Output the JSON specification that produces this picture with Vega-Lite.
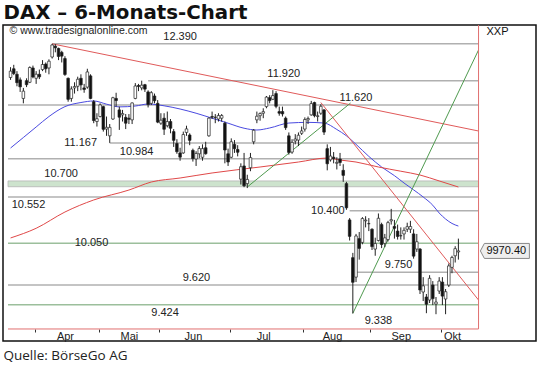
{
  "$schema": "https://vega.github.io/schema/vega-lite/v6.json",
  "width": 533,
  "height": 316,
  "autosize": "none",
  "padding": {"left": 3, "top": 25, "right": 4, "bottom": 25},
  "background": "white",
  "config": {"view": {"stroke": "#111111", "strokeWidth": 1.5}, "axis": {"grid": false}},
  "datasets": {
    "kerzen": [
      {"i":0,"d":"2015-03-20","o":11960,"h":12090,"l":11930,"c":12040},
      {"i":1,"d":"2015-03-23","o":12070,"h":12120,"l":11990,"c":12010},
      {"i":2,"d":"2015-03-24","o":12000,"h":12040,"l":11850,"c":11895},
      {"i":3,"d":"2015-03-25","o":11930,"h":11960,"l":11780,"c":11843},
      {"i":4,"d":"2015-03-26","o":11700,"h":11830,"l":11640,"c":11790},
      {"i":5,"d":"2015-03-27","o":11920,"h":11950,"l":11840,"c":11870},
      {"i":6,"d":"2015-03-30","o":11900,"h":12100,"l":11890,"c":12086},
      {"i":7,"d":"2015-03-31","o":12080,"h":12110,"l":11950,"c":11966},
      {"i":8,"d":"2015-04-01","o":11950,"h":12040,"l":11880,"c":12001},
      {"i":9,"d":"2015-04-02","o":12000,"h":12060,"l":11940,"c":11968},
      {"i":10,"d":"2015-04-07","o":12060,"h":12180,"l":12040,"c":12124},
      {"i":11,"d":"2015-04-08","o":12130,"h":12150,"l":12020,"c":12070},
      {"i":12,"d":"2015-04-09","o":12080,"h":12190,"l":12000,"c":12166},
      {"i":13,"d":"2015-04-10","o":12220,"h":12390,"l":12200,"c":12375},
      {"i":14,"d":"2015-04-13","o":12360,"h":12385,"l":12280,"c":12338},
      {"i":15,"d":"2015-04-14","o":12330,"h":12340,"l":12180,"c":12227},
      {"i":16,"d":"2015-04-15","o":12280,"h":12300,"l":12150,"c":12231},
      {"i":17,"d":"2015-04-16","o":12200,"h":12230,"l":11980,"c":11998},
      {"i":18,"d":"2015-04-17","o":11950,"h":11960,"l":11660,"c":11689},
      {"i":19,"d":"2015-04-20","o":11700,"h":11850,"l":11660,"c":11817},
      {"i":20,"d":"2015-04-21","o":11830,"h":11900,"l":11760,"c":11848},
      {"i":21,"d":"2015-04-22","o":11850,"h":11970,"l":11790,"c":11938},
      {"i":22,"d":"2015-04-23","o":11950,"h":12000,"l":11800,"c":11867},
      {"i":23,"d":"2015-04-24","o":11830,"h":11880,"l":11770,"c":11811},
      {"i":24,"d":"2015-04-27","o":11840,"h":12070,"l":11820,"c":12030},
      {"i":25,"d":"2015-04-28","o":11980,"h":12000,"l":11690,"c":11700},
      {"i":26,"d":"2015-04-29","o":11660,"h":11680,"l":11400,"c":11432},
      {"i":27,"d":"2015-04-30","o":11420,"h":11520,"l":11360,"c":11454},
      {"i":28,"d":"2015-05-04","o":11480,"h":11640,"l":11470,"c":11621},
      {"i":29,"d":"2015-05-05","o":11600,"h":11610,"l":11300,"c":11327},
      {"i":30,"d":"2015-05-06","o":11330,"h":11480,"l":11250,"c":11351},
      {"i":31,"d":"2015-05-07","o":11250,"h":11390,"l":11167,"c":11350},
      {"i":32,"d":"2015-05-08","o":11450,"h":11720,"l":11440,"c":11709},
      {"i":33,"d":"2015-05-11","o":11700,"h":11770,"l":11600,"c":11674},
      {"i":34,"d":"2015-05-12","o":11560,"h":11600,"l":11320,"c":11472},
      {"i":35,"d":"2015-05-13","o":11500,"h":11560,"l":11420,"c":11516},
      {"i":36,"d":"2015-05-14","o":11470,"h":11510,"l":11330,"c":11400},
      {"i":37,"d":"2015-05-15","o":11460,"h":11510,"l":11390,"c":11447},
      {"i":38,"d":"2015-05-18","o":11440,"h":11650,"l":11390,"c":11645},
      {"i":39,"d":"2015-05-19","o":11700,"h":11890,"l":11690,"c":11854},
      {"i":40,"d":"2015-05-20","o":11860,"h":11880,"l":11790,"c":11848},
      {"i":41,"d":"2015-05-21","o":11830,"h":11920,"l":11800,"c":11864},
      {"i":42,"d":"2015-05-22","o":11870,"h":11880,"l":11780,"c":11815},
      {"i":43,"d":"2015-05-26","o":11780,"h":11800,"l":11590,"c":11625},
      {"i":44,"d":"2015-05-27","o":11640,"h":11790,"l":11620,"c":11771},
      {"i":45,"d":"2015-05-28","o":11730,"h":11760,"l":11640,"c":11672},
      {"i":46,"d":"2015-05-29","o":11640,"h":11680,"l":11400,"c":11413},
      {"i":47,"d":"2015-06-01","o":11400,"h":11520,"l":11380,"c":11436},
      {"i":48,"d":"2015-06-02","o":11460,"h":11520,"l":11260,"c":11328},
      {"i":49,"d":"2015-06-03","o":11370,"h":11540,"l":11350,"c":11419},
      {"i":50,"d":"2015-06-04","o":11420,"h":11450,"l":11280,"c":11340},
      {"i":51,"d":"2015-06-05","o":11300,"h":11330,"l":11120,"c":11197},
      {"i":52,"d":"2015-06-08","o":11160,"h":11210,"l":11040,"c":11064},
      {"i":53,"d":"2015-06-09","o":11050,"h":11110,"l":10960,"c":11001},
      {"i":54,"d":"2015-06-10","o":11050,"h":11300,"l":11040,"c":11265},
      {"i":55,"d":"2015-06-11","o":11290,"h":11370,"l":11250,"c":11332},
      {"i":56,"d":"2015-06-12","o":11260,"h":11280,"l":11140,"c":11197},
      {"i":57,"d":"2015-06-15","o":11080,"h":11100,"l":10950,"c":10984},
      {"i":58,"d":"2015-06-16","o":10980,"h":11070,"l":10900,"c":11044},
      {"i":59,"d":"2015-06-17","o":11040,"h":11130,"l":10990,"c":11101},
      {"i":60,"d":"2015-06-18","o":11000,"h":11150,"l":10960,"c":11100},
      {"i":61,"d":"2015-06-19","o":11110,"h":11180,"l":11030,"c":11041},
      {"i":62,"d":"2015-06-22","o":11250,"h":11470,"l":11240,"c":11461},
      {"i":63,"d":"2015-06-23","o":11480,"h":11540,"l":11450,"c":11472},
      {"i":64,"d":"2015-06-24","o":11470,"h":11510,"l":11400,"c":11471},
      {"i":65,"d":"2015-06-25","o":11450,"h":11520,"l":11420,"c":11492},
      {"i":66,"d":"2015-06-26","o":11460,"h":11510,"l":11420,"c":11492},
      {"i":67,"d":"2015-06-29","o":11400,"h":11420,"l":10930,"c":11084},
      {"i":68,"d":"2015-06-30","o":11040,"h":11100,"l":10900,"c":10945},
      {"i":69,"d":"2015-07-01","o":11000,"h":11220,"l":10990,"c":11180},
      {"i":70,"d":"2015-07-02","o":11150,"h":11200,"l":11050,"c":11099},
      {"i":71,"d":"2015-07-03","o":11090,"h":11140,"l":11010,"c":11058},
      {"i":72,"d":"2015-07-06","o":10750,"h":10930,"l":10690,"c":10891},
      {"i":73,"d":"2015-07-07","o":10900,"h":11050,"l":10660,"c":10676},
      {"i":74,"d":"2015-07-08","o":10700,"h":10800,"l":10650,"c":10747},
      {"i":75,"d":"2015-07-09","o":10880,"h":11050,"l":10840,"c":10996},
      {"i":76,"d":"2015-07-10","o":11180,"h":11330,"l":11150,"c":11316},
      {"i":77,"d":"2015-07-13","o":11440,"h":11540,"l":11400,"c":11484},
      {"i":78,"d":"2015-07-14","o":11490,"h":11530,"l":11430,"c":11516},
      {"i":79,"d":"2015-07-15","o":11520,"h":11580,"l":11460,"c":11539},
      {"i":80,"d":"2015-07-16","o":11600,"h":11730,"l":11580,"c":11716},
      {"i":81,"d":"2015-07-17","o":11710,"h":11740,"l":11640,"c":11673},
      {"i":82,"d":"2015-07-20","o":11690,"h":11802,"l":11680,"c":11735},
      {"i":83,"d":"2015-07-21","o":11760,"h":11790,"l":11580,"c":11604},
      {"i":84,"d":"2015-07-22","o":11540,"h":11600,"l":11490,"c":11520},
      {"i":85,"d":"2015-07-23","o":11540,"h":11600,"l":11480,"c":11512},
      {"i":86,"d":"2015-07-24","o":11460,"h":11480,"l":11320,"c":11347},
      {"i":87,"d":"2015-07-27","o":11250,"h":11290,"l":11030,"c":11056},
      {"i":88,"d":"2015-07-28","o":11060,"h":11210,"l":11040,"c":11173},
      {"i":89,"d":"2015-07-29","o":11190,"h":11270,"l":11150,"c":11212},
      {"i":90,"d":"2015-07-30","o":11200,"h":11290,"l":11130,"c":11257},
      {"i":91,"d":"2015-07-31","o":11280,"h":11360,"l":11260,"c":11308},
      {"i":92,"d":"2015-08-03","o":11330,"h":11470,"l":11300,"c":11444},
      {"i":93,"d":"2015-08-04","o":11440,"h":11480,"l":11390,"c":11456},
      {"i":94,"d":"2015-08-05","o":11500,"h":11670,"l":11490,"c":11637},
      {"i":95,"d":"2015-08-06","o":11650,"h":11660,"l":11470,"c":11490},
      {"i":96,"d":"2015-08-07","o":11480,"h":11540,"l":11420,"c":11490},
      {"i":97,"d":"2015-08-10","o":11520,"h":11630,"l":11500,"c":11604},
      {"i":98,"d":"2015-08-11","o":11560,"h":11570,"l":11260,"c":11294},
      {"i":99,"d":"2015-08-12","o":11100,"h":11150,"l":10850,"c":10925},
      {"i":100,"d":"2015-08-13","o":10970,"h":11120,"l":10950,"c":11014},
      {"i":101,"d":"2015-08-14","o":11000,"h":11060,"l":10930,"c":10985},
      {"i":102,"d":"2015-08-17","o":10930,"h":11000,"l":10860,"c":10941},
      {"i":103,"d":"2015-08-18","o":10980,"h":11050,"l":10900,"c":10940},
      {"i":104,"d":"2015-08-19","o":10850,"h":10920,"l":10720,"c":10793},
      {"i":105,"d":"2015-08-20","o":10700,"h":10720,"l":10410,"c":10432},
      {"i":106,"d":"2015-08-21","o":10300,"h":10320,"l":10080,"c":10124},
      {"i":107,"d":"2015-08-24","o":9900,"h":9950,"l":9338,"c":9648},
      {"i":108,"d":"2015-08-25","o":9700,"h":10150,"l":9650,"c":10128},
      {"i":109,"d":"2015-08-26","o":10100,"h":10170,"l":9880,"c":9997},
      {"i":110,"d":"2015-08-27","o":10060,"h":10330,"l":10040,"c":10315},
      {"i":111,"d":"2015-08-28","o":10290,"h":10340,"l":10220,"c":10298},
      {"i":112,"d":"2015-08-31","o":10260,"h":10320,"l":10180,"c":10259},
      {"i":113,"d":"2015-09-01","o":10200,"h":10210,"l":9980,"c":10016},
      {"i":114,"d":"2015-09-02","o":9990,"h":10110,"l":9920,"c":10048},
      {"i":115,"d":"2015-09-03","o":10080,"h":10370,"l":10070,"c":10318},
      {"i":116,"d":"2015-09-04","o":10250,"h":10270,"l":10000,"c":10038},
      {"i":117,"d":"2015-09-07","o":10050,"h":10150,"l":10010,"c":10108},
      {"i":118,"d":"2015-09-08","o":10090,"h":10290,"l":10070,"c":10271},
      {"i":119,"d":"2015-09-09","o":10290,"h":10420,"l":10250,"c":10303},
      {"i":120,"d":"2015-09-10","o":10230,"h":10300,"l":10100,"c":10210},
      {"i":121,"d":"2015-09-11","o":10180,"h":10250,"l":10090,"c":10123},
      {"i":122,"d":"2015-09-14","o":10130,"h":10220,"l":10090,"c":10131},
      {"i":123,"d":"2015-09-15","o":10150,"h":10220,"l":10090,"c":10188},
      {"i":124,"d":"2015-09-16","o":10200,"h":10270,"l":10170,"c":10227},
      {"i":125,"d":"2015-09-17","o":10200,"h":10290,"l":10160,"c":10229},
      {"i":126,"d":"2015-09-18","o":10150,"h":10200,"l":9890,"c":9916},
      {"i":127,"d":"2015-09-21","o":9990,"h":10150,"l":9960,"c":10067},
      {"i":128,"d":"2015-09-22","o":9990,"h":10000,"l":9530,"c":9570},
      {"i":129,"d":"2015-09-23","o":9550,"h":9700,"l":9460,"c":9612},
      {"i":130,"d":"2015-09-24","o":9500,"h":9530,"l":9340,"c":9428},
      {"i":131,"d":"2015-09-25","o":9470,"h":9720,"l":9440,"c":9688},
      {"i":132,"d":"2015-09-28","o":9620,"h":9660,"l":9420,"c":9484},
      {"i":133,"d":"2015-09-29","o":9430,"h":9500,"l":9330,"c":9450},
      {"i":134,"d":"2015-09-30","o":9560,"h":9700,"l":9530,"c":9660},
      {"i":135,"d":"2015-10-01","o":9650,"h":9700,"l":9420,"c":9509},
      {"i":136,"d":"2015-10-02","o":9480,"h":9580,"l":9330,"c":9553},
      {"i":137,"d":"2015-10-05","o":9620,"h":9840,"l":9600,"c":9815},
      {"i":138,"d":"2015-10-06","o":9800,"h":9920,"l":9740,"c":9902},
      {"i":139,"d":"2015-10-07","o":9920,"h":10020,"l":9850,"c":9994},
      {"i":140,"d":"2015-10-08","o":9960,"h":10100,"l":9880,"c":9970.4}
    ],
    "gd": [
      {"gd":"kurz","i":0,"v":11107},{"gd":"kurz","i":4,"v":11230},{"gd":"kurz","i":8,"v":11355},{"gd":"kurz","i":12,"v":11480},{"gd":"kurz","i":17,"v":11600},{"gd":"kurz","i":22,"v":11650},{"gd":"kurz","i":26,"v":11669},{"gd":"kurz","i":30,"v":11630},{"gd":"kurz","i":34,"v":11597},{"gd":"kurz","i":39,"v":11607},{"gd":"kurz","i":43,"v":11632},{"gd":"kurz","i":48,"v":11610},{"gd":"kurz","i":53,"v":11571},{"gd":"kurz","i":58,"v":11520},{"gd":"kurz","i":63,"v":11460},{"gd":"kurz","i":68,"v":11400},{"gd":"kurz","i":73,"v":11340},{"gd":"kurz","i":77,"v":11319},{"gd":"kurz","i":81,"v":11343},{"gd":"kurz","i":87,"v":11402},{"gd":"kurz","i":93,"v":11410},{"gd":"kurz","i":98,"v":11402},{"gd":"kurz","i":102,"v":11325},{"gd":"kurz","i":105,"v":11250},{"gd":"kurz","i":108,"v":11150},{"gd":"kurz","i":112,"v":11010},{"gd":"kurz","i":116,"v":10888},{"gd":"kurz","i":120,"v":10790},{"gd":"kurz","i":123,"v":10707},{"gd":"kurz","i":126,"v":10630},{"gd":"kurz","i":129,"v":10551},{"gd":"kurz","i":132,"v":10460},{"gd":"kurz","i":134,"v":10375},{"gd":"kurz","i":136,"v":10310},{"gd":"kurz","i":138,"v":10262},{"gd":"kurz","i":140,"v":10234},
      {"gd":"lang","i":0,"v":10107},{"gd":"lang","i":8,"v":10210},{"gd":"lang","i":17,"v":10386},{"gd":"lang","i":26,"v":10518},{"gd":"lang","i":37,"v":10628},{"gd":"lang","i":44,"v":10718},{"gd":"lang","i":53,"v":10763},{"gd":"lang","i":63,"v":10820},{"gd":"lang","i":78,"v":10888},{"gd":"lang","i":90,"v":10945},{"gd":"lang","i":99,"v":10991},{"gd":"lang","i":103,"v":10968},{"gd":"lang","i":108,"v":10945},{"gd":"lang","i":115,"v":10888},{"gd":"lang","i":122,"v":10840},{"gd":"lang","i":128,"v":10797},{"gd":"lang","i":134,"v":10730},{"gd":"lang","i":140,"v":10662}
    ],
    "trend": [
      {"t":"r1","art":"fallend","i":13,"v":12390},{"t":"r1","art":"fallend","i":146.3,"v":11307},
      {"t":"r2","art":"fallend","i":97,"v":11650},{"t":"r2","art":"fallend","i":146.3,"v":9470},
      {"t":"g1","art":"steigend","i":74,"v":10662},{"t":"g1","art":"steigend","i":106.3,"v":11644},
      {"t":"g2","art":"steigend","i":107,"v":9338},{"t":"g2","art":"steigend","i":146.3,"v":12310}
    ],
    "linien": [
      {"wert":12390,"ab":13,"art":"grau"},
      {"wert":11920,"ab":43,"art":"grau"},
      {"wert":11620,"ab":-0.8,"art":"grau"},
      {"wert":11167,"ab":31,"art":"grau"},
      {"wert":10984,"ab":-0.8,"art":"grau"},
      {"wert":10552,"ab":-0.8,"art":"grau"},
      {"wert":10400,"ab":106,"art":"grau"},
      {"wert":10050,"ab":-0.8,"art":"gruen"},
      {"wert":9750,"ab":108,"art":"grau"},
      {"wert":9620,"ab":-0.8,"art":"grau"},
      {"wert":9424,"ab":-0.8,"art":"gruen"}
    ],
    "zonen": [{"von":10665,"bis":10730}],
    "marken": [
      {"txt":"12.390","wert":12390,"bei":53,"lage":"oben"},
      {"txt":"11.920","wert":11920,"bei":85.4,"lage":"oben"},
      {"txt":"11.620","wert":11620,"bei":108,"lage":"oben"},
      {"txt":"11.167","wert":11167,"bei":21.9,"lage":"mitte"},
      {"txt":"10.984","wert":10984,"bei":39.4,"lage":"oben"},
      {"txt":"10.700","wert":10730,"bei":15.8,"lage":"oben"},
      {"txt":"10.552","wert":10552,"bei":5.6,"lage":"unten"},
      {"txt":"10.400","wert":10400,"bei":99.2,"lage":"mitte"},
      {"txt":"10.050","wert":10050,"bei":25.3,"lage":"mitte"},
      {"txt":"9.750","wert":9750,"bei":121.3,"lage":"oben"},
      {"txt":"9.620","wert":9620,"bei":58.1,"lage":"oben"},
      {"txt":"9.424","wert":9424,"bei":48.3,"lage":"unten"},
      {"txt":"9.338","wert":9338,"bei":115,"lage":"unten"}
    ],
    "notiz": [{"txt":"© www.tradesignalonline.com","bei":-0.3,"wert":12560}],
    "rand": [{"links":-0.8,"rechts":146.3,"oben":12637,"unten":9186.6}],
    "schluss": [{"i":140,"c":9970.4}]
  },
  "layer": [
    {
      "data": {"name": "zonen"},
      "mark": {"type": "rect", "fill": "#cde3cd", "stroke": "#b4b4b4", "strokeWidth": 0.8},
      "encoding": {
        "x": {"datum": -0.8, "type": "quantitative", "scale": {"domain": [-0.8, 162.7], "nice": false, "zero": false}, "axis": null},
        "x2": {"datum": 146.3},
        "y": {"field": "von", "type": "quantitative", "scale": {"type": "log", "domain": [9071.5, 12637], "nice": false, "zero": false},
          "axis": {"orient": "right", "offset": -53.5, "domain": false,
            "values": [9200,9300,9400,9500,9600,9700,9800,9900,10000,10100,10200,10300,10400,10500,10600,10700,10800,10900,11000,11100,11200,11300,11400,11500,11600,11700,11800,11900,12000,12100,12200,12300,12400,12500],
            "tickColor": {"condition": {"test": "datum.value % 500 === 0", "value": "#222222"}, "value": "#e08a8a"},
            "tickSize": 3, "labelExpr": "datum.value % 500 === 0 ? format(datum.value, '.2f') : ''",
            "labelFont": "Liberation Sans", "labelFontSize": 10.5, "labelColor": "#111111", "labelPadding": 1, "labelOverlap": false, "labelFlush": false,
            "title": null}},
        "y2": {"field": "bis"}
      }
    },
    {
      "data": {"name": "linien"},
      "mark": {"type": "rule", "strokeWidth": 1.5},
      "encoding": {
        "x": {"field": "ab", "type": "quantitative", "scale": {"domain": [-0.8, 162.7], "nice": false, "zero": false}, "axis": null},
        "x2": {"datum": 146.3},
        "y": {"field": "wert", "type": "quantitative", "scale": {"type": "log", "domain": [9071.5, 12637], "nice": false, "zero": false}, "axis": null},
        "color": {"field": "art", "type": "nominal", "scale": {"domain": ["grau", "gruen"], "range": ["#b0b0b0", "#9cbf9c"]}, "legend": null}
      }
    },
    {
      "data": {"name": "gd"},
      "mark": {"type": "line", "strokeWidth": 1, "interpolate": "monotone"},
      "encoding": {
        "x": {"field": "i", "type": "quantitative", "scale": {"domain": [-0.8, 162.7], "nice": false, "zero": false},
          "axis": {"orient": "top", "domain": false, "ticks": false, "labels": false, "title": "DAX – 6-Monats-Chart", "titleX": 0, "titleY": -7, "titleAlign": "left", "titleAnchor": "start", "titleBaseline": "alphabetic", "titleFont": "DejaVu Sans", "titleFontSize": 19.8, "titleFontWeight": "bold", "titleColor": "#111111"}},
        "y": {"field": "v", "type": "quantitative", "scale": {"type": "log", "domain": [9071.5, 12637], "nice": false, "zero": false}, "axis": null},
        "stroke": {"field": "gd", "type": "nominal", "scale": {"domain": ["kurz", "lang"], "range": ["#4a4ae0", "#e04848"]}, "legend": null}
      }
    },
    {
      "data": {"name": "trend"},
      "mark": {"type": "line", "strokeWidth": 1},
      "encoding": {
        "x": {"field": "i", "type": "quantitative", "scale": {"domain": [-0.8, 162.7], "nice": false, "zero": false},
          "axis": {"orient": "top", "domain": false, "ticks": false, "labels": false, "title": "XXP", "titleX": 483, "titleY": 6, "titleAlign": "left", "titleAnchor": "start", "titleBaseline": "middle", "titleFont": "Liberation Sans", "titleFontSize": 11, "titleFontWeight": "normal", "titleColor": "#111111"}},
        "y": {"field": "v", "type": "quantitative", "scale": {"type": "log", "domain": [9071.5, 12637], "nice": false, "zero": false}, "axis": null},
        "detail": {"field": "t"},
        "stroke": {"condition": {"test": "datum.art === 'fallend'", "value": "#e05a5a"}, "value": "#4f9a4f"}
      }
    },
    {
      "data": {"name": "rand"},
      "mark": {"type": "rule", "color": "#e07070", "strokeWidth": 1},
      "encoding": {
        "x": {"field": "rechts", "type": "quantitative", "scale": {"domain": [-0.8, 162.7], "nice": false, "zero": false}, "axis": null},
        "y": {"field": "oben", "type": "quantitative", "scale": {"type": "log", "domain": [9071.5, 12637], "nice": false, "zero": false}, "axis": null},
        "y2": {"field": "unten"}
      }
    },
    {
      "data": {"name": "rand"},
      "mark": {"type": "rule", "color": "#e07070", "strokeWidth": 1},
      "encoding": {
        "x": {"field": "links", "type": "quantitative", "scale": {"domain": [-0.8, 162.7], "nice": false, "zero": false}, "axis": null},
        "x2": {"field": "rechts"},
        "y": {"field": "unten", "type": "quantitative", "scale": {"type": "log", "domain": [9071.5, 12637], "nice": false, "zero": false}, "axis": null}
      }
    },
    {
      "data": {"name": "kerzen"},
      "mark": {"type": "rule", "color": "#222222", "strokeWidth": 1},
      "encoding": {
        "x": {"field": "i", "type": "quantitative", "scale": {"domain": [-0.8, 162.7], "nice": false, "zero": false},
          "axis": {"orient": "bottom", "offset": -12, "domain": false, "values": [7.5, 27.5, 46.5, 68.5, 91.5, 112.5, 134.5], "labels": false, "tickColor": "#333333", "tickSize": 3,
            "title": "Quelle: BörseGo AG", "titleX": 0, "titleY": 30, "titleAlign": "left", "titleAnchor": "start", "titleBaseline": "alphabetic", "titleFont": "Open Sans", "titleFontSize": 13.5, "titleFontWeight": "normal", "titleColor": "#222222"}},
        "y": {"field": "l", "type": "quantitative", "scale": {"type": "log", "domain": [9071.5, 12637], "nice": false, "zero": false}, "axis": null},
        "y2": {"field": "h"}
      }
    },
    {
      "data": {"name": "kerzen"},
      "mark": {"type": "bar", "size": 2.6, "stroke": "#222222", "strokeWidth": 0.7},
      "encoding": {
        "x": {"field": "i", "type": "quantitative", "scale": {"domain": [-0.8, 162.7], "nice": false, "zero": false},
          "axis": {"orient": "bottom", "offset": -12, "domain": false, "ticks": false, "values": [17, 37, 57, 79, 100.5, 122, 138],
            "labelExpr": "datum.value < 27 ? 'Apr' : datum.value < 47 ? 'Mai' : datum.value < 68 ? 'Jun' : datum.value < 91 ? 'Jul' : datum.value < 112 ? 'Aug' : datum.value < 134 ? 'Sep' : 'Okt'",
            "labelFont": "Liberation Sans", "labelFontSize": 11, "labelColor": "#222222", "labelPadding": 1, "labelFlush": false, "labelOverlap": false, "title": null}},
        "y": {"field": "o", "type": "quantitative", "scale": {"type": "log", "domain": [9071.5, 12637], "nice": false, "zero": false}, "axis": null},
        "y2": {"field": "c"},
        "fill": {"condition": {"test": "datum.c >= datum.o", "value": "#ffffff"}, "value": "#111111"}
      }
    },
    {
      "data": {"name": "marken"},
      "transform": [{"filter": "datum.lage === 'oben'"}],
      "mark": {"type": "text", "font": "Liberation Sans", "fontSize": 11, "color": "#222222", "baseline": "middle", "align": "center", "dy": -7},
      "encoding": {
        "x": {"field": "bei", "type": "quantitative", "scale": {"domain": [-0.8, 162.7], "nice": false, "zero": false}, "axis": null},
        "y": {"field": "wert", "type": "quantitative", "scale": {"type": "log", "domain": [9071.5, 12637], "nice": false, "zero": false}, "axis": null},
        "text": {"field": "txt"}
      }
    },
    {
      "data": {"name": "marken"},
      "transform": [{"filter": "datum.lage === 'unten'"}],
      "mark": {"type": "text", "font": "Liberation Sans", "fontSize": 11, "color": "#222222", "baseline": "middle", "align": "center", "dy": 8},
      "encoding": {
        "x": {"field": "bei", "type": "quantitative", "scale": {"domain": [-0.8, 162.7], "nice": false, "zero": false}, "axis": null},
        "y": {"field": "wert", "type": "quantitative", "scale": {"type": "log", "domain": [9071.5, 12637], "nice": false, "zero": false}, "axis": null},
        "text": {"field": "txt"}
      }
    },
    {
      "data": {"name": "marken"},
      "transform": [{"filter": "datum.lage === 'mitte'"}],
      "mark": {"type": "text", "font": "Liberation Sans", "fontSize": 11, "color": "#222222", "baseline": "middle", "align": "center", "dy": 0},
      "encoding": {
        "x": {"field": "bei", "type": "quantitative", "scale": {"domain": [-0.8, 162.7], "nice": false, "zero": false}, "axis": null},
        "y": {"field": "wert", "type": "quantitative", "scale": {"type": "log", "domain": [9071.5, 12637], "nice": false, "zero": false}, "axis": null},
        "text": {"field": "txt"}
      }
    },
    {
      "data": {"name": "notiz"},
      "mark": {"type": "text", "font": "Liberation Sans", "fontSize": 10.5, "color": "#222222", "baseline": "middle", "align": "left"},
      "encoding": {
        "x": {"field": "bei", "type": "quantitative", "scale": {"domain": [-0.8, 162.7], "nice": false, "zero": false}, "axis": null},
        "y": {"field": "wert", "type": "quantitative", "scale": {"type": "log", "domain": [9071.5, 12637], "nice": false, "zero": false}, "axis": null},
        "text": {"field": "txt"}
      }
    },
    {
      "data": {"name": "schluss"},
      "mark": {"type": "point", "shape": "M 2.2 0 L 2.6 -0.75 L 7.1 -0.75 L 7.1 0.75 L 2.6 0.75 Z", "size": 400, "filled": true, "fill": "#eeeeee", "stroke": "#888888", "strokeWidth": 1, "opacity": 1},
      "encoding": {
        "x": {"field": "i", "type": "quantitative", "scale": {"domain": [-0.8, 162.7], "nice": false, "zero": false}, "axis": null},
        "y": {"field": "c", "type": "quantitative", "scale": {"type": "log", "domain": [9071.5, 12637], "nice": false, "zero": false}, "axis": null}
      }
    },
    {
      "data": {"name": "schluss"},
      "mark": {"type": "text", "font": "Liberation Sans", "fontSize": 11, "color": "#111111", "align": "left", "baseline": "middle", "dx": 28},
      "encoding": {
        "x": {"field": "i", "type": "quantitative", "scale": {"domain": [-0.8, 162.7], "nice": false, "zero": false}, "axis": null},
        "y": {"field": "c", "type": "quantitative", "scale": {"type": "log", "domain": [9071.5, 12637], "nice": false, "zero": false}, "axis": null},
        "text": {"field": "c", "format": ".2f"}
      }
    }
  ],
  "resolve": {"axis": {"x": "independent"}, "scale": {"color": "independent", "stroke": "independent"}}
}
